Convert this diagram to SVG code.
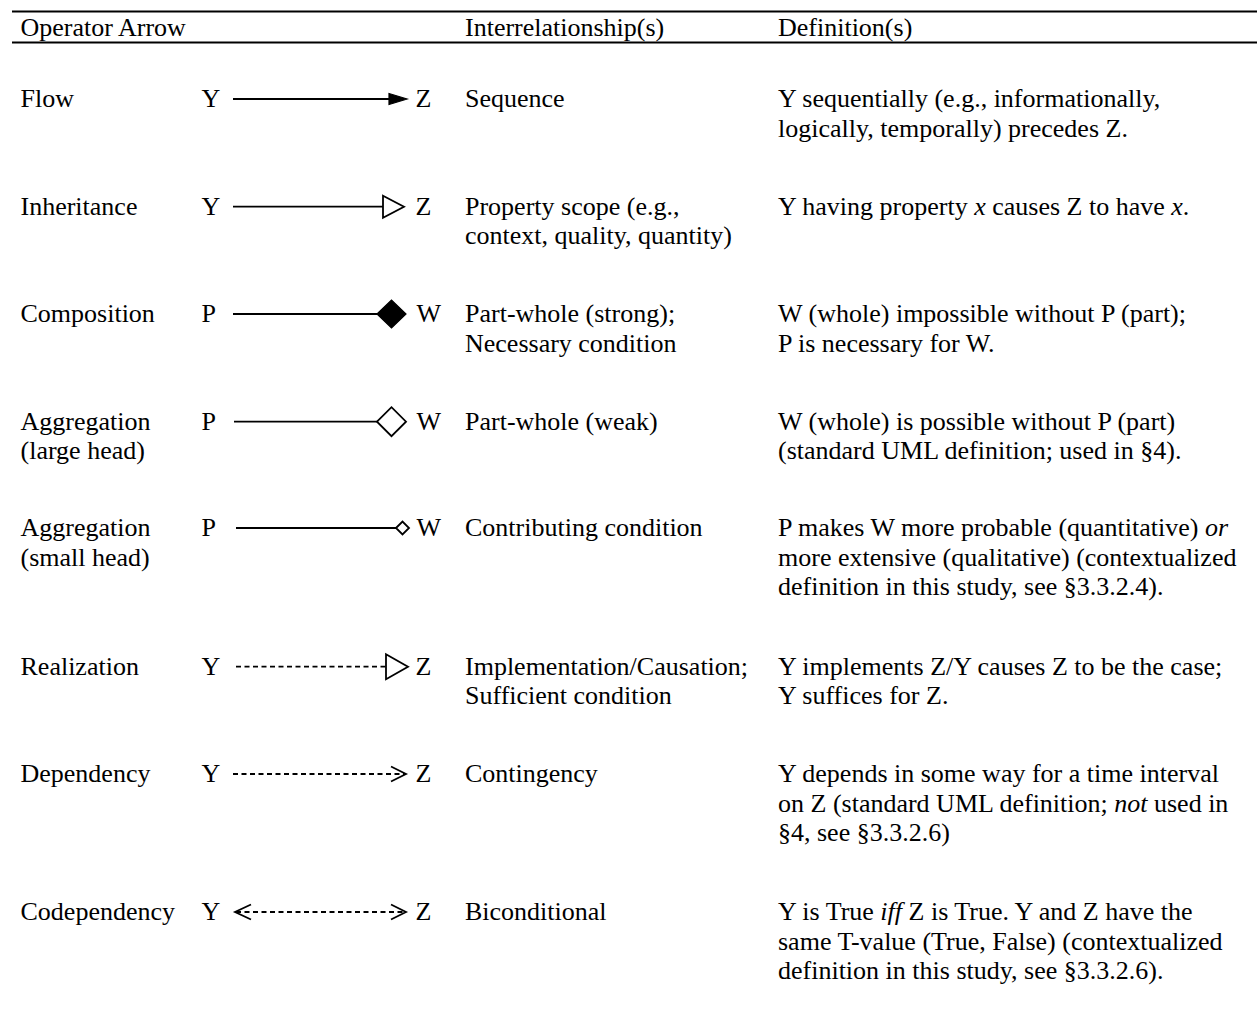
<svg xmlns="http://www.w3.org/2000/svg" width="1257" height="1018" viewBox="0 0 1257 1018">
  <style>
    text { font-family: "Liberation Serif", "Times New Roman", serif; font-size: 26px; fill: #000; }
    .it { font-style: italic; }
    .rule { stroke: #000; stroke-width: 2; }
    .solid { stroke: #000; stroke-width: 1.8; fill: none; }
    .dash { stroke: #000; stroke-width: 1.8; fill: none; stroke-dasharray: 5 3.5; }
    .open { stroke: #000; stroke-width: 1.8; fill: #fff; }
    .filled { stroke: #000; stroke-width: 1.2; fill: #000; }
  </style>
  <rect width="1257" height="1018" fill="#fff"/>

  <!-- table rules -->
  <line class="rule" x1="12" y1="11.5" x2="1257" y2="11.5"/>
  <line class="rule" x1="12" y1="42.5" x2="1257" y2="42.5"/>

  <!-- header -->
  <g id="header">
    <text x="20.5" y="35.5">Operator Arrow</text>
    <text x="465" y="35.5">Interrelationship(s)</text>
    <text x="778" y="35.5">Definition(s)</text>
  </g>

  <!-- operator arrows -->
  <g id="connectors">
    <!-- flow -->
    <line class="solid" x1="233" y1="99" x2="393" y2="99"/>
    <polygon class="filled" points="389,93.5 407,99 389,104.5"/>
    <!-- inheritance -->
    <line class="solid" x1="233" y1="206.7" x2="383" y2="206.7"/>
    <polygon class="open" points="383,195.7 404,206.7 383,217.7"/>
    <!-- composition -->
    <line class="solid" x1="233" y1="314" x2="378" y2="314"/>
    <polygon class="filled" points="377,314 391.5,300 406,314 391.5,328"/>
    <!-- aggregation, large head -->
    <line class="solid" x1="234" y1="421.7" x2="378" y2="421.7"/>
    <polygon class="open" points="377,421.7 391.5,407.2 406,421.7 391.5,436.2"/>
    <!-- aggregation, small head -->
    <line class="solid" x1="236" y1="528" x2="396" y2="528"/>
    <polygon class="open" points="396,528 402.5,521.5 409,528 402.5,534.5"/>
    <!-- realization -->
    <line class="dash" x1="236" y1="666.7" x2="386" y2="666.7"/>
    <polygon class="open" points="386,654.2 408,666.7 386,679.2"/>
    <!-- dependency -->
    <line class="dash" x1="233" y1="774" x2="405" y2="774"/>
    <polyline class="solid" points="391,766.5 406,774 391,781.5"/>
    <!-- codependency -->
    <line class="dash" x1="236" y1="912" x2="405" y2="912"/>
    <polyline class="solid" points="251,904.5 235,912 251,919.5"/>
    <polyline class="solid" points="391,904.5 406,912 391,919.5"/>
  </g>

  <!-- rows -->
  <g id="row-flow">
    <text x="20.5" y="107">Flow</text>
    <text x="201.5" y="107">Y</text>
    <text x="415.5" y="107">Z</text>
    <text x="465" y="107">Sequence</text>
    <text x="778" y="107">Y sequentially (e.g., informationally,</text>
    <text x="778" y="136.7">logically, temporally) precedes Z.</text>
  </g>

  <g id="row-inheritance">
    <text x="20.5" y="214.5">Inheritance</text>
    <text x="201.5" y="214.5">Y</text>
    <text x="415.5" y="214.5">Z</text>
    <text x="465" y="214.5">Property scope (e.g.,</text>
    <text x="465" y="244.2">context, quality, quantity)</text>
    <text x="778" y="214.5">Y having property <tspan class="it">x</tspan> causes Z to have <tspan class="it">x</tspan>.</text>
  </g>

  <g id="row-composition">
    <text x="20.5" y="322">Composition</text>
    <text x="201.5" y="322">P</text>
    <text x="416.5" y="322">W</text>
    <text x="465" y="322">Part-whole (strong);</text>
    <text x="465" y="351.7">Necessary condition</text>
    <text x="778" y="322">W (whole) impossible without P (part);</text>
    <text x="778" y="351.7">P is necessary for W.</text>
  </g>

  <g id="row-aggregation-large">
    <text x="20.5" y="429.5">Aggregation</text>
    <text x="20.5" y="459.2">(large head)</text>
    <text x="201.5" y="429.5">P</text>
    <text x="416.5" y="429.5">W</text>
    <text x="465" y="429.5">Part-whole (weak)</text>
    <text x="778" y="429.5">W (whole) is possible without P (part)</text>
    <text x="778" y="459.2">(standard UML definition; used in §4).</text>
  </g>

  <g id="row-aggregation-small">
    <text x="20.5" y="536">Aggregation</text>
    <text x="20.5" y="565.7">(small head)</text>
    <text x="201.5" y="536">P</text>
    <text x="416.5" y="536">W</text>
    <text x="465" y="536">Contributing condition</text>
    <text x="778" y="536">P makes W more probable (quantitative) <tspan class="it">or</tspan></text>
    <text x="778" y="565.7">more extensive (qualitative) (contextualized</text>
    <text x="778" y="595.4">definition in this study, see §3.3.2.4).</text>
  </g>

  <g id="row-realization">
    <text x="20.5" y="674.5">Realization</text>
    <text x="201.5" y="674.5">Y</text>
    <text x="415.5" y="674.5">Z</text>
    <text x="465" y="674.5">Implementation/Causation;</text>
    <text x="465" y="704.2">Sufficient condition</text>
    <text x="778" y="674.5">Y implements Z/Y causes Z to be the case;</text>
    <text x="778" y="704.2">Y suffices for Z.</text>
  </g>

  <g id="row-dependency">
    <text x="20.5" y="782">Dependency</text>
    <text x="201.5" y="782">Y</text>
    <text x="415.5" y="782">Z</text>
    <text x="465" y="782">Contingency</text>
    <text x="778" y="782">Y depends in some way for a time interval</text>
    <text x="778" y="811.7">on Z (standard UML definition; <tspan class="it">not</tspan> used in</text>
    <text x="778" y="841.4">§4, see §3.3.2.6)</text>
  </g>

  <g id="row-codependency">
    <text x="20.5" y="920">Codependency</text>
    <text x="201.5" y="920">Y</text>
    <text x="415.5" y="920">Z</text>
    <text x="465" y="920">Biconditional</text>
    <text x="778" y="920">Y is True <tspan class="it">iff</tspan> Z is True. Y and Z have the</text>
    <text x="778" y="949.7">same T-value (True, False) (contextualized</text>
    <text x="778" y="979.4">definition in this study, see §3.3.2.6).</text>
  </g>
</svg>
